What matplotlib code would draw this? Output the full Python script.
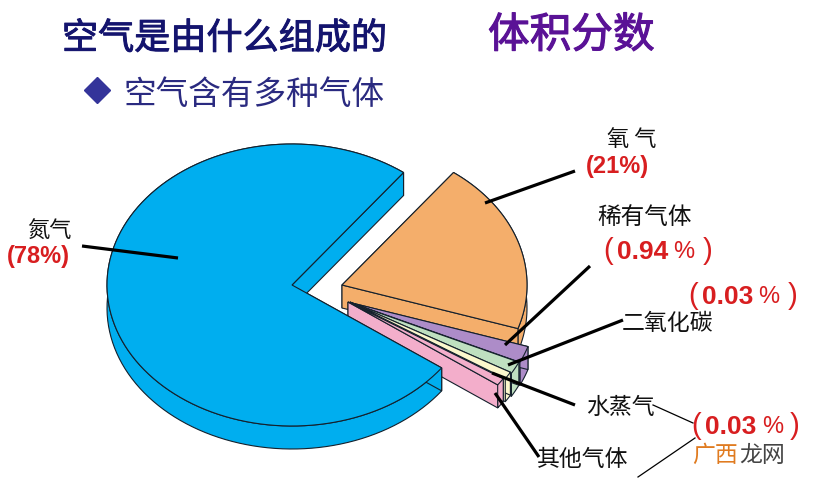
import numpy as np
import matplotlib
matplotlib.use("Agg")
import matplotlib.pyplot as plt
from matplotlib.patches import Polygon
import matplotlib.patheffects as pe

plt.rcParams['font.family'] = ['Noto Sans CJK SC', 'DejaVu Sans']

# slices as they are drawn in the picture (share of the circle, %), not the labelled amounts
gases = ["氮气", "氧气", "稀有气体", "二氧化碳", "水蒸气", "其他气体"]
drawn_share = [75.3, 19.7, 1.9, 1.4, 0.85, 0.85]
slice_colors = ["#00AEEF", "#F4AE6B", "#AD8CC8", "#BFE0C0", "#FBF7CC", "#F3AECB"]
label_values = ["78%", "21%", "0.94", "0.03", "0.03"]

# slices run clockwise from the lower cut of the big one
start_angle = 324
apex_x = [292, 342, 352, 351, 350, 348]
apex_y = [285, 285, 303, 303, 302, 302]
draw_order = [1, 2, 3, 4, 5, 0]
RX, RY, DEPTH = 185, 141, 23
EDGE = "#14202c"
RED = "#D81E20"
LATIN = "Liberation Sans"


def slice_outline(i, angles):
    a0, a1 = angles[i], angles[i + 1]
    th = np.radians(np.linspace(a0, a1, 120))
    return apex_x[i] + RX * np.cos(th), apex_y[i] - RY * np.sin(th)


def draw_slice(ax, i, angles):
    x, y = slice_outline(i, angles)
    col = slice_colors[i]
    cx, cy = apex_x[i], apex_y[i]
    # outer wall
    band = np.r_[np.c_[x, y], np.c_[x[::-1], y[::-1] + DEPTH]]
    ax.add_patch(Polygon(band, fc=col, ec=EDGE, lw=0.8, joinstyle="round"))
    # the two cut faces
    for px, py in [(x[0], y[0]), (x[-1], y[-1])]:
        quad = [(cx, cy), (px, py), (px, py + DEPTH), (cx, cy + DEPTH)]
        ax.add_patch(Polygon(quad, fc=col, ec=EDGE, lw=0.8))
    top = np.r_[[[cx, cy]], np.c_[x, y]]
    ax.add_patch(Polygon(top, fc=col, ec=EDGE, lw=0.8))


def pct_label(ax, x_open, x_num, x_pct, x_close, y, value):
    kw = dict(color=RED, family=LATIN, va="center", ha="left")
    ax.text(x_open, y - 1, "(", fontsize=21, **kw)
    ax.text(x_num, y, value, fontsize=19, fontweight="bold", **kw)
    ax.text(x_pct, y, "%", fontsize=17, **kw)
    ax.text(x_close, y - 1, ")", fontsize=21, **kw)


fig = plt.figure(figsize=(8.2, 4.8), dpi=100)
ax = fig.add_axes([0, 0, 1, 1])
ax.set_xlim(0, 820)
ax.set_ylim(480, 0)
ax.axis("off")

angles = start_angle - np.r_[0, np.cumsum(drawn_share)] * 3.6
for i in draw_order:
    draw_slice(ax, i, angles)

# titles, thickened a little with a stroke
title = ax.text(62, 39, "空气是由什么组成的", fontsize=26, color="#14146E", va="center")
title.set_path_effects([pe.withStroke(linewidth=0.7, foreground="#14146E")])
title2 = ax.text(488, 36, "体积分数", fontsize=30, color="#5A1296", va="center")
title2.set_path_effects([pe.withStroke(linewidth=0.8, foreground="#5A1296")])
ax.plot([97], [90], marker="D", ms=13, color="#34349A", ls="none")
ax.text(124, 95, "空气含有多种气体", fontsize=23.5, color="#2A2A80", va="center")

# leader lines
leaders = [((82, 246), (178, 258)), ((575, 171), (485, 203)), ((590, 266), (505, 345)),
           ((623, 320), (508, 365)), ((575, 405), (492, 373)), ((539, 457), (495, 393))]
for (x0, y0), (x1, y1) in leaders:
    ax.plot([x0, x1], [y0, y1], color="black", lw=2.3, solid_capstyle="butt")
ax.plot([653, 693], [405, 423], color="black", lw=0.9)
ax.plot([695, 638], [438, 477], color="black", lw=0.9)

# names
ax.text(49, 230, gases[0], fontsize=16, ha="center", va="center", color="#111111")
ax.text(632, 139, "氧 气", fontsize=16, ha="center", va="center", color="#111111")
ax.text(645, 218, gases[2], fontsize=17, ha="center", va="center", color="#111111")
ax.text(667, 324, gases[3], fontsize=16.5, ha="center", va="center", color="#111111")
ax.text(620, 407, gases[4], fontsize=16.5, ha="center", va="center", color="#111111")
ax.text(583, 459, gases[5], fontsize=16.5, ha="center", va="center", color="#111111")

# amounts
ax.text(38, 257, "(" + label_values[0] + ")", fontsize=17, fontweight="bold", color=RED,
        family=LATIN, ha="center", va="center")
ax.text(617, 166, "(" + label_values[1] + ")", fontsize=17, fontweight="bold", color=RED,
        family=LATIN, ha="center", va="center")
pct_label(ax, 603, 617, 673, 703, 252, label_values[2])
pct_label(ax, 688, 702, 758, 788, 297, label_values[3])
pct_label(ax, 691, 705, 762, 790, 427, label_values[4])

# site mark in the corner of the picture
ax.text(692, 455, "广西", fontsize=16.5, color="#E07B20", va="center")
ax.text(739, 455, "龙网", fontsize=16.5, color="#444444", va="center")

fig.savefig("out.png", dpi=100)
